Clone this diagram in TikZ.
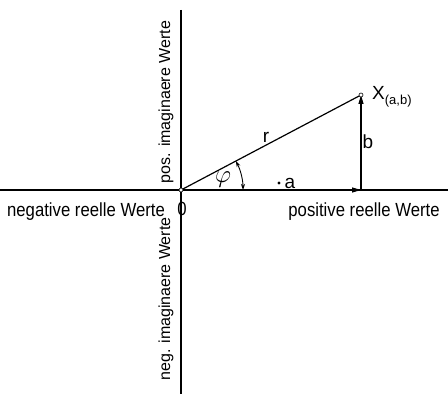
\documentclass[tikz,border=0pt]{standalone}
\usepackage{fontspec}
\setmainfont{Liberation Sans}
\usetikzlibrary{arrows.meta,calc}
\newcommand{\cnd}[1]{\scalebox{0.88}[1]{#1}}
\begin{document}
\begin{tikzpicture}[x=1pt,y=1pt,
  axis/.style={line width=1.2pt},
  vec/.style={line width=1.2pt,-{Triangle[length=9pt,width=5pt]}},
  lbl/.style={font=\fontsize{19}{19}\selectfont,inner sep=0pt},
  vlbl/.style={font=\fontsize{16}{16}\selectfont,inner sep=0pt,rotate=90},
  pt/.style={circle,draw,fill=white,inner sep=0pt,minimum size=4pt,line width=0.6pt}]
\useasboundingbox (0,0) rectangle (448,394);
\coordinate (O) at (181,204);
\coordinate (A) at (361,204);
\coordinate (X) at (361,299);
\coordinate (top) at (181,384);
\coordinate (bot) at (181,0);
\coordinate (left) at (0,204);
\coordinate (right) at (448,204);
\draw[axis] (left) -- (right);
\draw[axis] (top) -- (bot);
\draw[vec] (O) -- (A);
\draw[vec] (A) -- (X);
\draw[axis] (O) -- (X);
\draw[line width=0.9pt,{Stealth[length=6pt,width=4pt]}-{Stealth[length=6pt,width=4pt]}]
  ($(O)+(62,0)$) arc[start angle=0,end angle=27.8,radius=62];
\node[pt] (o) at (O) {};
\node[pt] (x) at (X) {};
\node[lbl] (zero) at (182,185) {\cnd{0}};
\node[lbl] (neg) at (86,182) {\cnd{negative reelle Werte}};
\node[lbl] (pos) at (364,182) {\cnd{positive reelle Werte}};
\node[vlbl] (pim) at (166,292) {pos. imaginaere Werte};
\node[vlbl] (nim) at (166,95) {neg. imaginaere Werte};
\node[lbl] (r) at (266,257) {r};
\node[lbl] (b) at (368,252) {b};
\node[inner sep=0pt,font=\fontsize{24}{24}\selectfont] (phi) at (223,214) {$\varphi$};
\fill (279,211) circle (1.6pt);
\node[lbl] (a) at (290,211) {a};
\node[lbl,anchor=west] (xl) at (372,297) {X\raisebox{-5pt}{\fontsize{13}{13}\selectfont(a,b)}};
\end{tikzpicture}
\end{document}
